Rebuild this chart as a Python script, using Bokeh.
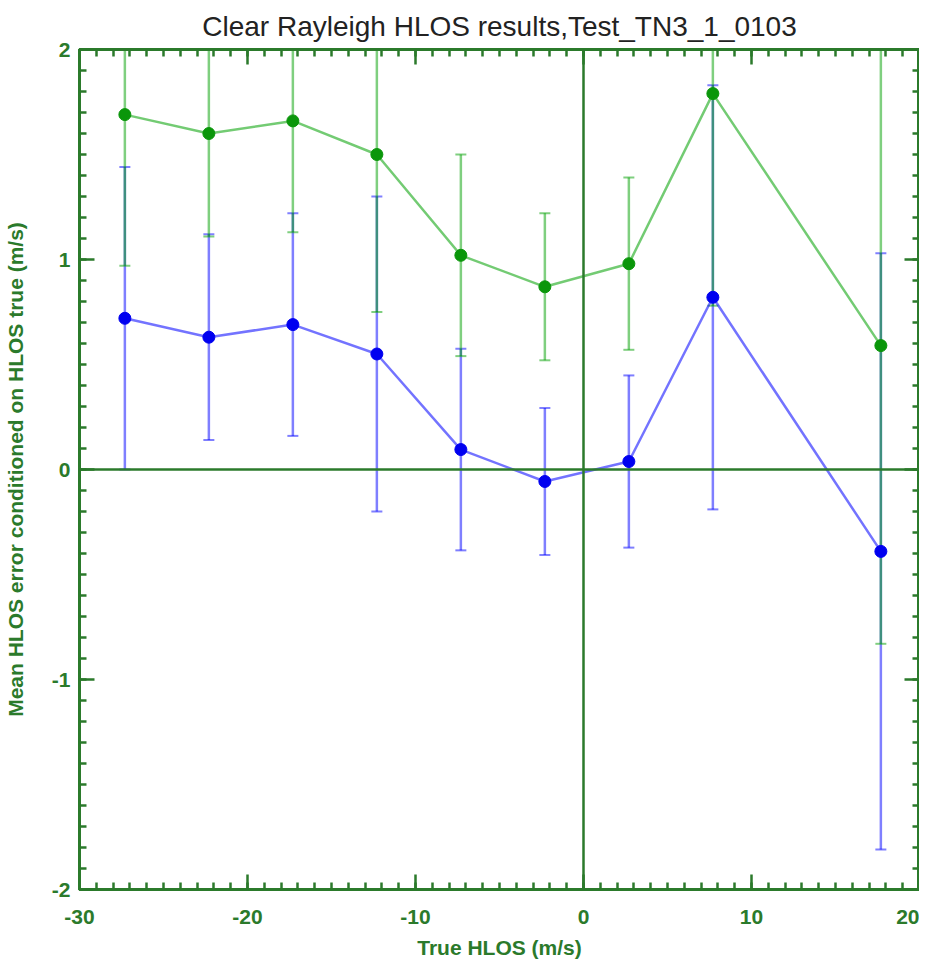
from bokeh.plotting import figure
from bokeh.models import (LinearAxis, Range1d, Span, Whisker, TeeHead,
                          ColumnDataSource, FixedTicker, CustomJSTickFormatter)
from bokeh.embed import file_html
from bokeh.resources import INLINE

# ---- data ----
true_hlos = [-27.3, -22.3, -17.3, -12.3, -7.3, -2.3, 2.7, 7.7, 17.7]
green_mean = [1.69, 1.60, 1.66, 1.50, 1.02, 0.87, 0.98, 1.79, 0.59]
blue_mean = [0.72, 0.63, 0.69, 0.55, 0.095, -0.057, 0.038, 0.82, -0.39]
err_half = [0.72, 0.49, 0.53, 0.75, 0.48, 0.35, 0.41, 1.01, 1.42]

x_major = [-30, -20, -10, 0, 10, 20]
y_major = [-2, -1, 0, 1, 2]

AXC = "#2b7a2b"
GREEN = "#00a000"
BLUE = "#0000ff"
GMARK = "#0a960a"
BMARK = "#0000f0"

src = ColumnDataSource(dict(
    x=true_hlos,
    g=green_mean,
    b=blue_mean,
    gu=[m + e for m, e in zip(green_mean, err_half)],
    gl=[m - e for m, e in zip(green_mean, err_half)],
    bu=[m + e for m, e in zip(blue_mean, err_half)],
    bl=[m - e for m, e in zip(blue_mean, err_half)],
))

p = figure(frame_width=840, frame_height=840, x_range=Range1d(-30, 20), y_range=Range1d(-2, 2),
           output_backend="svg", toolbar_location=None,
           min_border_left=75, min_border_right=0, min_border_top=40, min_border_bottom=70)

p.title.text = "Clear Rayleigh HLOS results,Test_TN3_1_0103"
p.title.align = "center"
p.title.text_font = "Liberation Sans"
p.title.text_font_style = "normal"
p.title.text_font_size = "28px"
p.title.text_color = "#222222"
p.title.standoff = 16

p.xgrid.visible = False
p.ygrid.visible = False
p.outline_line_color = AXC
p.outline_line_width = 3
p.background_fill_color = "white"
p.border_fill_color = "white"

xt = FixedTicker(ticks=x_major, minor_ticks=list(range(-30, 21)))
yt = FixedTicker(ticks=y_major, minor_ticks=[round(-2 + 0.1 * i, 1) for i in range(41)])

plain = CustomJSTickFormatter(code="return tick.toString()")


def style(ax, ticker, labels=True):
    ax.ticker = ticker
    ax.axis_line_color = AXC
    ax.axis_line_width = 3
    ax.major_tick_line_color = AXC
    ax.major_tick_line_width = 2.5
    ax.minor_tick_line_color = AXC
    ax.minor_tick_line_width = 2.5
    ax.major_tick_in = 15
    ax.major_tick_out = 0
    ax.minor_tick_in = 7
    ax.minor_tick_out = 0
    ax.major_label_text_color = AXC
    ax.major_label_text_font = "Liberation Sans"
    ax.major_label_text_font_style = "bold"
    ax.major_label_text_font_size = "21px"
    ax.axis_label_text_color = AXC
    ax.axis_label_text_font = "Liberation Sans"
    ax.axis_label_text_font_style = "bold"
    ax.axis_label_text_font_size = "21px"
    if labels:
        ax.formatter = plain
    else:
        ax.formatter = CustomJSTickFormatter(code="return ''")
        ax.major_label_standoff = 0
        ax.major_label_text_font_size = "1px"


xa = p.xaxis[0]
ya = p.yaxis[0]
style(xa, xt)
style(ya, yt)
xa.axis_label = "True HLOS (m/s)"
ya.axis_label = "Mean HLOS error conditioned on HLOS true (m/s)"
xa.major_label_standoff = 20
xa.axis_label_standoff = 9
ya.major_label_standoff = 9
ya.axis_label_standoff = 22
ya.major_label_orientation = "horizontal"

top = LinearAxis()
right = LinearAxis()
style(top, xt, labels=False)
style(right, yt, labels=False)
p.add_layout(top, "above")
p.add_layout(right, "right")

# zero lines
p.add_layout(Span(location=0, dimension="width", line_color=AXC, line_width=2.5))
p.add_layout(Span(location=0, dimension="height", line_color=AXC, line_width=2.5))

# error bars: blue first, green on top (their overlap blends to teal)
for up, lo, col in (("bu", "bl", BLUE), ("gu", "gl", GREEN)):
    w = Whisker(base="x", upper=up, lower=lo, source=src,
                line_color=col, line_alpha=0.5, line_width=2.5,
                upper_head=TeeHead(size=11, line_color=col, line_alpha=0.5, line_width=2),
                lower_head=TeeHead(size=11, line_color=col, line_alpha=0.5, line_width=2))
    p.add_layout(w)

p.line("x", "b", source=src, line_color=BLUE, line_alpha=0.55, line_width=2.5)
p.line("x", "g", source=src, line_color=GREEN, line_alpha=0.55, line_width=2.5)
p.scatter("x", "b", source=src, size=12, fill_color=BMARK, line_color=BMARK)
p.scatter("x", "g", source=src, size=12, fill_color=GMARK, line_color=GMARK)

open("out.html", "w").write(file_html(p, INLINE))
